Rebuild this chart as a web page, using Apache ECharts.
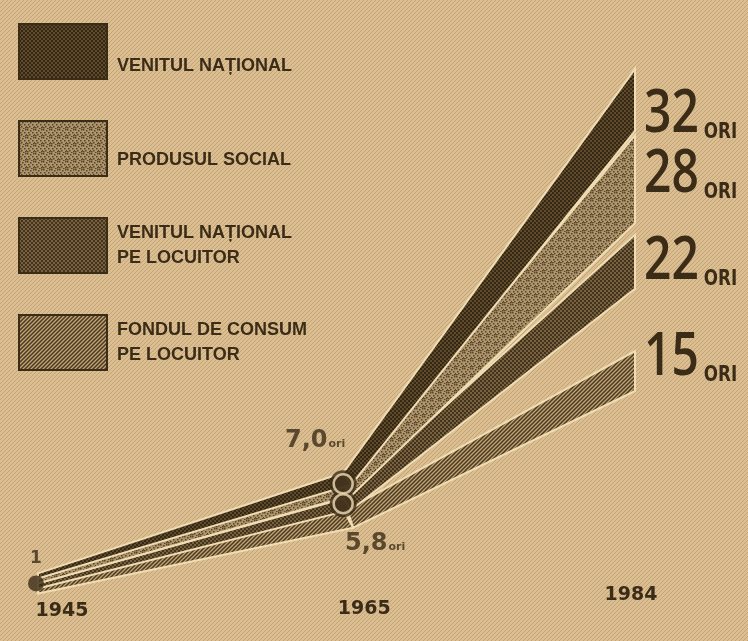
<!DOCTYPE html>
<html>
<head>
<meta charset="utf-8">
<script src="https://cdn.jsdelivr.net/npm/echarts@6/dist/echarts.min.js"></script>
<style>
html,body{margin:0;padding:0;background:#d5b78a;}
#chart{width:748px;height:641px;}
</style>
</head>
<body>
<div id="chart"></div>
<script>
// ---- data ----
const years = [1945, 1965, 1984];
const seriesNames = ['VENITUL NAȚIONAL', 'PRODUSUL SOCIAL', 'VENITUL NAȚIONAL\nPE LOCUITOR', 'FONDUL DE CONSUM\nPE LOCUITOR'];
const venitulNational = [1, 7.0, 32];
const produsulSocial = [1, 7.0, 28];
const venitulPeLocuitor = [1, 5.8, 22];
const fondulDeConsum = [1, 5.8, 15];
const nodeLabels = ['1', '7,0', '5,8'];
const unitSmall = 'ori';
const unitBig = 'ORI';

// ---- styles ----
const INK = '#3b2c18';
const CREAM = '#f0ddb4';

function makePattern(kind, base, fg) {
  const c = document.createElement('canvas');
  const s = kind === 'speckle' ? 8 : 4;
  c.width = s; c.height = s;
  const g = c.getContext('2d');
  g.fillStyle = base; g.fillRect(0, 0, s, s);
  g.fillStyle = fg; g.strokeStyle = fg;
  if (kind === 'dots') {
    g.fillRect(0, 0, 2, 2); g.fillRect(2, 2, 2, 2);
  } else if (kind === 'speckle') {
    const pts = [[0,0],[3,1],[6,0],[1,3],[5,3],[2,5],[7,5],[0,6],[4,7],[6,6]];
    pts.forEach(p => g.fillRect(p[0], p[1], 1.5, 1.5));
  } else if (kind === 'hatch') {
    g.lineWidth = 1.5;
    g.beginPath();
    g.moveTo(-1, 5); g.lineTo(5, -1);
    g.moveTo(-1, 1); g.lineTo(1, -1);
    g.moveTo(3, 5); g.lineTo(5, 3);
    g.stroke();
  } else if (kind === 'paper') {
    g.lineWidth = 1;
    g.beginPath();
    g.moveTo(-1, 5); g.lineTo(5, -1);
    g.moveTo(3, 5); g.lineTo(5, 3);
    g.moveTo(-1, 1); g.lineTo(1, -1);
    g.stroke();
  }
  return { image: c, repeat: 'repeat' };
}

const fills = [
  makePattern('dots', '#5f4a2c', '#342713'),
  makePattern('speckle', '#ae956b', '#56442a'),
  makePattern('dots', '#78613f', '#43331c'),
  makePattern('hatch', '#c2a475', '#4a3921')
];
const paper = makePattern('paper', '#dbbf92', '#c3a273');

// per-band geometry (pixel offsets, style only)
// o: offsets at origin [top, bottom]; at: top apex at node [dx, dy]; ab: bottom apex at node [dx, dy]
const BAND = [
  { o: [-10, -5], at: [0, -11], ab: [8, 1],   t: 62, ly: 46 },
  { o: [-5, 0],   at: [3, 1],   ab: [8, 12],  t: 88, ly: 40 },
  { o: [0, 5],    at: [0, -5],  ab: [8, 6],   t: 54, ly: 27 },
  { o: [5, 10],   at: [4, 6],   ab: [10, 24], t: 40, ly: 7 }
];

const allValues = [venitulNational, produsulSocial, venitulPeLocuitor, fondulDeConsum];

function makeRender(k) {
  return function (params, api) {
    const o = api.coord([api.value(0), api.value(1)]);
    const n = api.coord([api.value(2), api.value(3)]);
    const e = api.coord([api.value(4), api.value(5)]);
    const s = BAND[k];
    const apexTop = [n[0] + s.at[0], n[1] + s.at[1]];
    const apexBot = [n[0] + s.ab[0], n[1] + s.ab[1]];
    const left = [
      [o[0] + 2, o[1] + s.o[0]], [n[0], n[1] + s.at[1]],
      apexBot, [o[0] + 2, o[1] + s.o[1]]
    ];
    const right = [apexTop, [e[0], e[1]], [e[0], e[1] + s.t], apexBot];
    return {
      type: 'group',
      children: [
        { type: 'polygon', shape: { points: left }, style: { fill: fills[k], stroke: CREAM, lineWidth: 2 } },
        { type: 'polygon', shape: { points: right }, style: { fill: fills[k], stroke: CREAM, lineWidth: 2 } },
        {
          type: 'text', x: e[0] + 9, y: e[1] + s.ly, scaleX: 0.8,
          style: {
            text: '{n|' + api.value(5) + '}{o|' + unitBig + '}',
            align: 'left', verticalAlign: 'middle',
            rich: {
              n: { fontSize: 60, fontWeight: 600, fontFamily: "'Open Sans', sans-serif", fill: INK, color: INK },
              o: { fontSize: 21, fontWeight: 'bold', fontFamily: "'DejaVu Sans', sans-serif", fill: INK, color: INK, padding: [0, 0, 2, 6], verticalAlign: 'bottom' }
            }
          }
        }
      ]
    };
  };
}

const bandSeries = [3, 2, 1, 0].map(k => ({
  type: 'custom',
  name: seriesNames[k],
  clip: false,
  z: 2,
  itemStyle: { color: fills[k] },
  encode: { x: [0, 2, 4], y: [1, 3, 5] },
  data: [[years[0], allValues[k][0], years[1], allValues[k][1], years[2], allValues[k][2]]],
  renderItem: makeRender(k)
}));

const nodeData = [
  [years[1], venitulNational[1]],
  [years[1], venitulPeLocuitor[1]]
];

const legendFont = { fontSize: 18, fontWeight: 'bold', fontFamily: "'Liberation Sans', sans-serif", color: INK, lineHeight: 25 };

const option = {
  backgroundColor: '#d5b78a',
  animation: false,
  graphic: [{
    type: 'rect', z: -10, silent: true,
    shape: { x: 0, y: 0, width: 748, height: 641 },
    style: { fill: paper }
  }],
  grid: { left: 36, right: 113, top: 19, bottom: 41 },
  xAxis: {
    type: 'value', min: 1945, max: 1984,
    axisLine: { show: false }, axisTick: { show: false }, splitLine: { show: false },
    axisLabel: {
      customValues: years, margin: -16,
      formatter: v => '{y' + years.indexOf(v) + '|' + v + '}',
      rich: {
        y0: { padding: [18, 0, 0, 52], fontSize: 19, fontWeight: 'bold', fontFamily: "'DejaVu Sans', sans-serif", color: INK },
        y1: { padding: [16, 0, 0, 42], fontSize: 19, fontWeight: 'bold', fontFamily: "'DejaVu Sans', sans-serif", color: INK },
        y2: { padding: [2, 8, 0, 0], fontSize: 19, fontWeight: 'bold', fontFamily: "'DejaVu Sans', sans-serif", color: INK }
      }
    }
  },
  yAxis: { type: 'value', min: 0, max: 35, show: false },
  legend: {
    orient: 'vertical', left: 18, top: 23, padding: 0,
    itemWidth: 88, itemHeight: 55, itemGap: 40,
    selectedMode: false,
    icon: 'rect',
    data: seriesNames.map((name, k) => ({
      name,
      itemStyle: { color: fills[k], borderColor: INK, borderWidth: 2 }
    })),
    formatter: name => {
      const k = seriesNames.indexOf(name);
      return name.split('\n').map(line => '{t' + k + '|' + line + '}').join('\n');
    },
    textStyle: Object.assign({}, legendFont, {
      rich: {
        t0: Object.assign({}, legendFont, { padding: [30, 0, 0, 5] }),
        t1: Object.assign({}, legendFont, { padding: [24, 0, 0, 5] }),
        t2: Object.assign({}, legendFont, { padding: [0, 0, 0, 5] }),
        t3: Object.assign({}, legendFont, { padding: [0, 0, 0, 5] })
      }
    })
  },
  series: bandSeries.concat([
    {
      type: 'scatter', name: 'origine', z: 5, silent: true,
      data: [[years[0], venitulNational[0]]],
      symbolSize: 16, itemStyle: { color: INK },
      label: { show: true, position: 'inside', offset: [0, -25], formatter: nodeLabels[0], fontSize: 17, fontWeight: 'bold', fontFamily: "'DejaVu Sans', sans-serif", color: INK }
    },
    {
      type: 'scatter', name: 'noduri-fond', z: 5, silent: true,
      data: nodeData, symbolSize: 27, itemStyle: { color: INK }
    },
    {
      type: 'scatter', name: 'noduri', z: 6, silent: true,
      symbolSize: 19,
      itemStyle: { color: '#45351e', borderColor: CREAM, borderWidth: 2.5 },
      data: [
        { value: nodeData[0], label: { offset: [-28, -43], formatter: '{a|' + nodeLabels[1] + '}{b|' + unitSmall + '}' } },
        { value: nodeData[1], label: { offset: [32, 40], formatter: '{a|' + nodeLabels[2] + '}{b|' + unitSmall + '}' } }
      ],
      label: {
        show: true, position: 'inside',
        rich: {
          a: { fontSize: 24, fontWeight: 'bold', fontFamily: "'DejaVu Sans', sans-serif", color: INK },
          b: { fontSize: 11, fontWeight: 'bold', fontFamily: "'DejaVu Sans', sans-serif", color: INK, padding: [6, 0, 0, 1] }
        }
      }
    }
  ])
};

const chart = echarts.init(document.getElementById('chart'), null, { renderer: 'canvas' });
chart.setOption(option);
</script>
</body>
</html>
